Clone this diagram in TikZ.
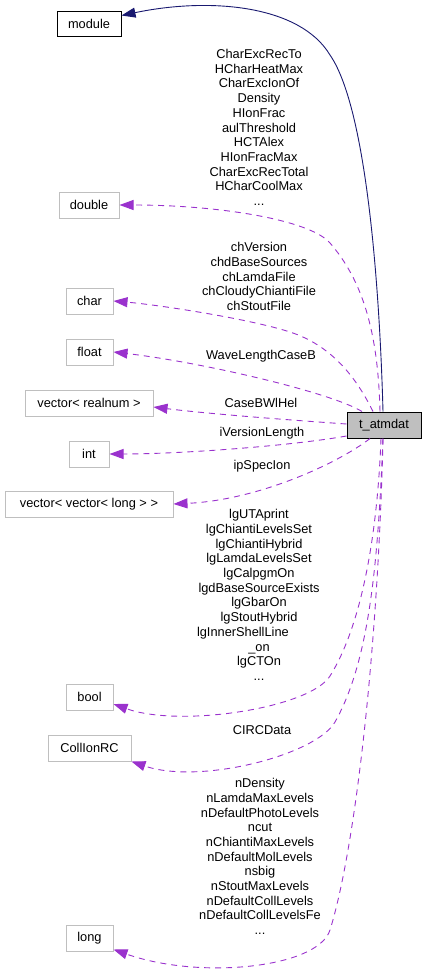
\documentclass[tikz,border=0pt]{standalone}
\usepackage{fontspec}
\setmainfont{Liberation Sans}
\usetikzlibrary{arrows.meta}
\definecolor{edgepurple}{HTML}{9A32CD}
\definecolor{edgenavy}{HTML}{191970}
\definecolor{boxgray}{HTML}{BFBFBF}

\begin{document}
\begin{tikzpicture}[x=1pt, y=-1pt,
    type/.style={draw=boxgray, line width=1pt, minimum height=26pt, inner sep=0pt,
        font=\fontsize{12.8}{14.7}\selectfont},
    cls/.style={type, draw=black, fill=boxgray},
    lbl/.style={align=center, inner sep=0pt, font=\fontsize{12.8}{14.7}\selectfont},
    mbr/.style={draw=edgepurple, line width=0.9pt, dash pattern=on 6pt off 5pt,
        -{Triangle[length=14pt, width=10pt]}},
    inh/.style={draw=edgenavy, line width=0.9pt, -{Triangle[length=14pt, width=10pt]}}]
\useasboundingbox (0,0) rectangle (427,975);

\node[type, draw=black, minimum width=64pt, minimum height=25pt] (module) at (89,23.5) {module};
\node[type, minimum width=60pt] (double) at (89,205) {double};
\node[type, minimum width=47pt] (char) at (89.5,301) {char};
\node[type, minimum width=47pt] (float) at (89.5,352) {float};
\node[type, minimum width=128pt] (vecreal) at (89,403) {vector< realnum >};
\node[type, minimum width=40pt] (int) at (89,454) {int};
\node[type, minimum width=168pt] (vecvec) at (89,504) {vector< vector< long > >};
\node[type, minimum width=47pt] (bool) at (89.5,697) {bool};
\node[type, minimum width=83pt] (collion) at (89.5,748) {CollIonRC};
\node[type, minimum width=47pt] (long) at (89.5,938.5) {long};
\node[cls, minimum width=74pt] (tatm) at (384,425) {t\_atmdat};

% inheritance
\draw[inh] ([xshift=-1pt]tatm.north) .. controls (380,300) and (368,110) .. (330,55)
    .. controls (300,5) and (210,-3) .. ([yshift=8pt]module.east);

% members
\draw[mbr] ([xshift=-4pt]tatm.north) .. controls (378,330) and (362,280) .. (330,243)
    .. controls (310,220) and (220,205) .. (double.east);
\draw[mbr] ([xshift=-11pt]tatm.north) .. controls (355,375) and (330,345) .. (290,332)
    .. controls (250,319) and (160,305) .. (char.east);
\draw[mbr] ([xshift=-22pt]tatm.north) .. controls (330,392) and (200,362) .. (float.east);
\draw[mbr] ([yshift=1pt]tatm.west) .. controls (290,420) and (210,414) .. ([yshift=-4pt]vecreal.east);
\draw[mbr] ([yshift=-11pt]tatm.west) .. controls (290,446) and (180,454) .. (int.east);
\draw[mbr] ([xshift=-14pt]tatm.south) .. controls (340,462) and (260,500) .. (vecvec.east);
\draw[mbr] ([xshift=-3pt]tatm.south) .. controls (378,520) and (365,620) .. (330,676)
    .. controls (310,708) and (180,728) .. ([yshift=-7pt]bool.east);
\draw[mbr] ([xshift=-1pt]tatm.south) .. controls (378,560) and (370,660) .. (335,722)
    .. controls (316,755) and (200,785) .. (collion.south east);
\draw[mbr] ([xshift=-1pt]tatm.south) .. controls (378,650) and (355,850) .. (330,930)
    .. controls (318,968) and (200,980) .. ([yshift=-11pt]long.east);

% member names
\node[lbl] (lbldouble) at (259,127.4) {CharExcRecTo\\HCharHeatMax\\CharExcIonOf\\Density\\HIonFrac\\aulThreshold\\HCTAlex\\HIonFracMax\\CharExcRecTotal\\HCharCoolMax\\...};
\node[lbl] (lblchar) at (259,276.5) {chVersion\\chdBaseSources\\chLamdaFile\\chCloudyChiantiFile\\chStoutFile};
\node[lbl] (lblfloat) at (261,356) {WaveLengthCaseB};
\node[lbl] (lblvecreal) at (261,403) {CaseBWlHel};
\node[lbl] (lblint) at (262,433.3) {iVersionLength};
\node[lbl] (lblvecvec) at (262,466.3) {ipSpecIon};
\node[lbl] (lblbool) at (259,595) {lgUTAprint\\lgChiantiLevelsSet\\lgChiantiHybrid\\lgLamdaLevelsSet\\lgCalpgmOn\\lgdBaseSourceExists\\lgGbarOn\\lgStoutHybrid\\\makebox[124pt][l]{lgInnerShellLine}\\\_on\\lgCTOn\\...};
\node[lbl] (lblcollion) at (262,730) {CIRCData};
\node[lbl] (lbllong) at (260,856.5) {nDensity\\nLamdaMaxLevels\\nDefaultPhotoLevels\\ncut\\nChiantiMaxLevels\\nDefaultMolLevels\\nsbig\\nStoutMaxLevels\\nDefaultCollLevels\\nDefaultCollLevelsFe\\...};
\end{tikzpicture}
\end{document}
